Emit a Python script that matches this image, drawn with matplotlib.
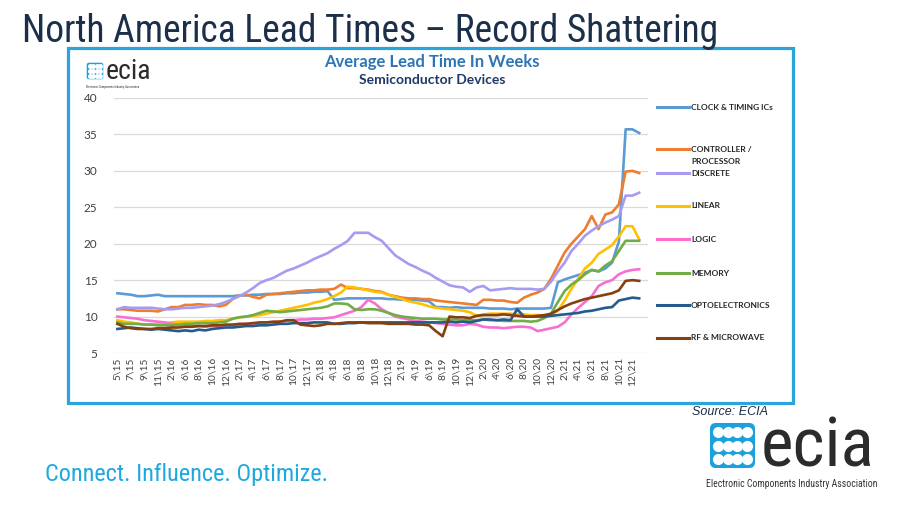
import matplotlib.pyplot as plt
from matplotlib.patches import Rectangle, FancyBboxPatch
from matplotlib.lines import Line2D

# month labels (m\yy), one per data point
months = [r'5\15', r'6\15', r'7\15', r'8\15', r'9\15', r'10\15', r'11\15', r'12\15',
          r'2\16', r'4\16', r'6\16', r'7\16', r'8\16', r'9\16', r'10\16', r'11\16', r'12\16',
          r'1\17', r'2\17', r'3\17', r'4\17', r'5\17', r'6\17', r'7\17', r'8\17', r'9\17',
          r'10\17', r'11\17', r'12\17',
          r'1\18', r'2\18', r'3\18', r'4\18', r'5\18', r'6\18', r'7\18', r'8\18', r'9\18',
          r'10\18', r'11\18', r'12\18',
          r'1\19', r'2\19', r'3\19', r'4\19', r'5\19', r'6\19', r'7\19', r'8\19', r'9\19',
          r'10\19', r'11\19', r'12\19',
          r'1\20', r'2\20', r'3\20', r'4\20', r'5\20', r'6\20', r'7\20', r'8\20', r'9\20',
          r'10\20', r'11\20', r'12\20',
          r'1\21', r'2\21', r'3\21', r'4\21', r'5\21', r'6\21', r'7\21', r'8\21', r'9\21',
          r'10\21', r'11\21', r'12\21', r'1\22']

clock = [13.2, 13.1, 13.0, 12.8, 12.8, 12.9, 13.0, 12.8, 12.8, 12.8, 12.8, 12.8, 12.8, 12.8,
         12.8, 12.8, 12.8, 12.8, 12.9, 12.9, 13.0, 13.0, 13.1, 13.1, 13.1, 13.2, 13.2, 13.3,
         13.3, 13.4, 13.4, 13.5, 12.3, 12.4, 12.5, 12.5, 12.5, 12.5, 12.5, 12.5, 12.4, 12.4,
         12.3, 12.3, 12.3, 12.2, 12.1, 11.3, 11.3, 11.2, 11.3, 11.2, 11.2, 11.2, 11.2, 11.1,
         11.1, 11.1, 11.0, 11.1, 11.1, 11.1, 11.1, 11.1, 11.2, 14.7, 15.1, 15.4, 15.7, 16.0,
         16.4, 16.2, 16.6, 17.4, 20.3, 35.7, 35.7, 35.2]
controller = [11.0, 11.0, 10.9, 10.8, 10.8, 10.8, 10.7, 11.0, 11.3, 11.3, 11.6, 11.6, 11.7,
              11.6, 11.6, 11.4, 11.6, 12.4, 12.9, 13.0, 12.7, 12.5, 13.0, 13.1, 13.2, 13.3,
              13.4, 13.5, 13.6, 13.6, 13.7, 13.7, 13.8, 14.4, 13.9, 13.9, 13.8, 13.7, 13.5,
              13.4, 13.0, 12.8, 12.6, 12.5, 12.5, 12.4, 12.4, 12.2, 12.1, 12.0, 11.9, 11.8,
              11.7, 11.6, 12.3, 12.3, 12.2, 12.2, 12.0, 11.9, 12.6, 13.0, 13.3, 13.8, 15.2,
              17.0, 18.8, 20.0, 21.0, 22.0, 23.8, 22.0, 24.0, 24.3, 25.4, 29.9, 30.0, 29.7]
discrete = [11.0, 11.3, 11.2, 11.2, 11.2, 11.2, 11.1, 11.0, 11.0, 11.1, 11.2, 11.2, 11.3,
            11.4, 11.5, 11.7, 12.0, 12.4, 12.8, 13.3, 13.9, 14.6, 15.0, 15.3, 15.8, 16.3,
            16.6, 17.0, 17.4, 17.9, 18.3, 18.7, 19.3, 19.8, 20.4, 21.5, 21.5, 21.5, 20.9,
            20.4, 19.4, 18.4, 17.8, 17.2, 16.8, 16.3, 15.9, 15.3, 14.8, 14.3, 14.1, 14.0,
            13.4, 14.0, 14.2, 13.6, 13.7, 13.8, 13.9, 13.8, 13.8, 13.8, 13.7, 13.8, 14.8,
            16.2, 17.4, 19.0, 20.0, 21.1, 21.8, 22.4, 22.9, 23.3, 23.8, 26.6, 26.6, 27.0]
linear = [9.5, 9.3, 9.2, 9.0, 8.9, 8.9, 9.0, 9.1, 9.2, 9.3, 9.3, 9.3, 9.3, 9.4, 9.4, 9.5,
          9.5, 9.7, 9.9, 10.0, 10.1, 10.2, 10.4, 10.6, 10.8, 11.0, 11.2, 11.4, 11.6, 11.9,
          12.1, 12.4, 12.8, 13.3, 14.1, 14.0, 13.8, 13.6, 13.4, 13.3, 13.0, 12.7, 12.4,
          12.1, 11.9, 11.7, 11.4, 11.2, 11.1, 11.0, 10.9, 10.8, 10.6, 10.1, 10.3, 10.4,
          10.4, 10.4, 10.4, 10.3, 10.3, 10.2, 10.2, 10.1, 10.2, 10.8, 12.2, 13.8, 15.2,
          16.6, 17.4, 18.6, 19.2, 19.8, 21.0, 22.4, 22.4, 20.6]
logic = [10.0, 9.9, 9.8, 9.7, 9.5, 9.4, 9.3, 9.2, 9.0, 8.9, 8.8, 8.7, 8.7, 8.6, 8.7, 8.7,
         8.8, 8.8, 8.9, 9.0, 9.0, 9.1, 9.2, 9.2, 9.3, 9.4, 9.5, 9.6, 9.6, 9.7, 9.7, 9.8,
         9.9, 10.2, 10.5, 10.8, 11.3, 12.3, 11.8, 11.0, 10.5, 10.0, 9.8, 9.6, 9.4, 9.3,
         9.2, 9.1, 9.0, 8.9, 8.8, 8.8, 9.0, 8.9, 8.6, 8.5, 8.5, 8.4, 8.5, 8.6, 8.6, 8.5,
         8.0, 8.2, 8.4, 8.6, 9.2, 10.3, 11.2, 12.0, 12.8, 14.2, 14.7, 15.0, 15.8, 16.2,
         16.4, 16.5]
memory = [9.2, 9.0, 9.0, 9.0, 8.9, 8.9, 8.8, 8.8, 8.8, 8.9, 9.0, 9.0, 9.1, 9.1, 9.1, 9.2,
          9.3, 9.7, 9.9, 10.0, 10.2, 10.5, 10.8, 10.7, 10.6, 10.7, 10.8, 10.9, 11.0, 11.1,
          11.2, 11.4, 11.8, 11.8, 11.7, 11.0, 10.9, 11.0, 11.0, 10.8, 10.5, 10.2, 10.0,
          9.9, 9.8, 9.7, 9.7, 9.7, 9.6, 9.6, 9.6, 9.5, 9.5, 9.5, 9.6, 9.5, 9.5, 9.4, 9.4,
          9.4, 9.4, 9.3, 9.4, 9.8, 10.4, 12.0, 13.5, 14.4, 15.0, 15.8, 16.4, 16.2, 17.0,
          17.6, 19.0, 20.4, 20.4, 20.4]
opto = [8.3, 8.4, 8.5, 8.4, 8.3, 8.2, 8.3, 8.2, 8.1, 8.0, 8.1, 8.0, 8.2, 8.1, 8.3, 8.4,
        8.5, 8.5, 8.6, 8.7, 8.7, 8.8, 8.8, 8.9, 9.0, 9.0, 9.1, 9.1, 9.1, 9.2, 9.2, 9.2,
        9.0, 9.0, 9.1, 9.1, 9.2, 9.2, 9.2, 9.2, 9.2, 9.2, 9.2, 9.2, 9.2, 9.2, 9.2, 9.2,
        9.2, 9.3, 9.2, 9.3, 9.2, 9.4, 9.6, 9.6, 9.5, 9.6, 9.5, 11.0, 10.0, 10.0, 10.0,
        10.0, 10.1, 10.2, 10.3, 10.4, 10.5, 10.7, 10.8, 11.0, 11.2, 11.3, 12.2, 12.4,
        12.6, 12.5]
rf = [9.0, 8.6, 8.4, 8.3, 8.3, 8.3, 8.4, 8.4, 8.5, 8.5, 8.6, 8.6, 8.7, 8.7, 8.8, 8.8, 8.9,
      8.9, 9.0, 9.0, 9.1, 9.2, 9.2, 9.3, 9.3, 9.5, 9.5, 8.9, 8.8, 8.7, 8.8, 9.0, 9.0, 9.1,
      9.2, 9.2, 9.2, 9.1, 9.1, 9.1, 9.0, 9.0, 9.0, 9.0, 8.9, 8.9, 8.8, 8.0, 7.3, 10.0,
      9.9, 9.9, 9.8, 10.1, 10.2, 10.2, 10.2, 10.3, 10.2, 10.1, 10.0, 10.0, 10.1, 10.2,
      10.4, 10.9, 11.4, 11.8, 12.1, 12.4, 12.6, 12.8, 13.0, 13.2, 13.6, 14.9, 15.0, 14.9]

series_names = ['CLOCK & TIMING ICs', 'CONTROLLER /\nPROCESSOR', 'DISCRETE', 'LINEAR',
                'LOGIC', 'MEMORY', 'OPTOELECTRONICS', 'RF & MICROWAVE']
series_values = [clock, controller, discrete, linear, logic, memory, opto, rf]
colors = ['#5B9BD5', '#ED7D31', '#A59CF2', '#FFC000', '#F76FD2', '#70AD47', '#235B8E', '#86400F']
yticks = [5, 10, 15, 20, 25, 30, 35, 40]

W, H = 920, 518
def fx(x):
    return x / W
def fy(y):
    return 1 - y / H

fig = plt.figure(figsize=(9.2, 5.18), dpi=100)
fig.patch.set_facecolor('white')

narrow = ['Liberation Sans Narrow', 'Roboto Condensed', 'Liberation Sans']
chartfont = ['Lato', 'DejaVu Sans']

# slide title
fig.text(fx(22), fy(31), 'North America Lead Times \u2013 Record Shattering',
         fontsize=27, color='#1C2F4A', family=narrow, va='center', ha='left')

# blue frame around the chart
fig.add_artist(Rectangle((fx(68), fy(403)), fx(793) - fx(68), fy(48) - fy(403),
                         transform=fig.transFigure, fill=False, ec='#2BA3DB', lw=2.3))

# chart titles
fig.text(fx(432), fy(62), 'Average Lead Time In Weeks', fontsize=12, fontweight='bold',
         color='#2E75B6', family=chartfont, ha='center', va='center')
fig.text(fx(432), fy(80), 'Semiconductor Devices', fontsize=10, fontweight='bold',
         color='#1F3864', family=chartfont, ha='center', va='center')


def ecia_logo(x0, y0, size, text_size, sub_size, sub_y, sub_x):
    ia = fig.add_axes([fx(x0), fy(y0 + size), size / W, size / H])
    ia.set_xlim(0, 1)
    ia.set_ylim(0, 1)
    ia.axis('off')
    ia.add_patch(FancyBboxPatch((0.04, 0.04), 0.92, 0.92, boxstyle='round,pad=0,rounding_size=0.12',
                                fc='#1DA1DD', ec='none'))
    for r, yy in enumerate([0.78, 0.5, 0.22]):
        xs = [0.2, 0.4, 0.6, 0.8]
        ia.plot(xs, [yy] * 4, color='white', lw=size / 18, solid_capstyle='round')
        ia.scatter(xs, [yy] * 4, s=(size / 7) ** 2, color='white', zorder=3)
    fig.text(fx(x0 + size * 1.08), fy(y0 + size * 0.93), 'ecia', fontsize=text_size,
             color='#2B2B2B', family=narrow, ha='left', va='baseline')
    fig.text(fx(sub_x), fy(sub_y), 'Electronic Components Industry Association',
             fontsize=sub_size, color='#333333', family=narrow, ha='left', va='center')


ecia_logo(86, 62, 18, 20, 2.2, 87, 86)
ecia_logo(708, 421, 49, 50, 7.0, 484, 706)

# source and tagline
fig.text(fx(692), fy(412), 'Source: ECIA', fontsize=9, style='italic', color='#1C2F4A',
         family=['Liberation Sans'], ha='left', va='center')
fig.text(fx(45), fy(474), 'Connect. Influence. Optimize.', fontsize=17.5, color='#1FA8DF',
         family=narrow, ha='left', va='center')

# main chart
ax = fig.add_axes([fx(114), fy(353), (648 - 114) / W, (353 - 98) / H])
x = list(range(len(months)))
for vals, col in zip(series_values, colors):
    ax.plot(x, vals, color=col, lw=1.9, solid_joinstyle='round')

ax.set_xlim(-0.5, 78.3)
ax.set_ylim(5, 40)
ax.set_yticks(yticks)
ax.grid(axis='y', color='#D9D9D9', lw=0.9)
ax.set_axisbelow(True)
for s in ax.spines.values():
    s.set_visible(False)
ax.set_xticks(x[::2])
ax.set_xticklabels(months[::2], rotation=90, fontsize=7.3, color='#404040', family=chartfont)
ax.tick_params(axis='x', length=0, pad=3)
ax.tick_params(axis='y', length=0, pad=12, labelsize=8.5, labelcolor='#404040')
for lab in ax.get_yticklabels():
    lab.set_family(chartfont)

# legend on the right
legend_y = [107, 149, 173, 206, 239, 273, 305, 338]
for name, col, ly in zip(series_names, colors, legend_y):
    fig.add_artist(Line2D([fx(657), fx(689)], [fy(ly), fy(ly)], color=col, lw=2.2,
                          transform=fig.transFigure))
    for k, part in enumerate(name.split('\n')):
        fig.text(fx(691), fy(ly + 12.5 * k), part, fontsize=6.0, fontweight='bold',
                 color='#262626', family=chartfont, ha='left', va='center')

fig.savefig('out.png', dpi=100, facecolor='white')
